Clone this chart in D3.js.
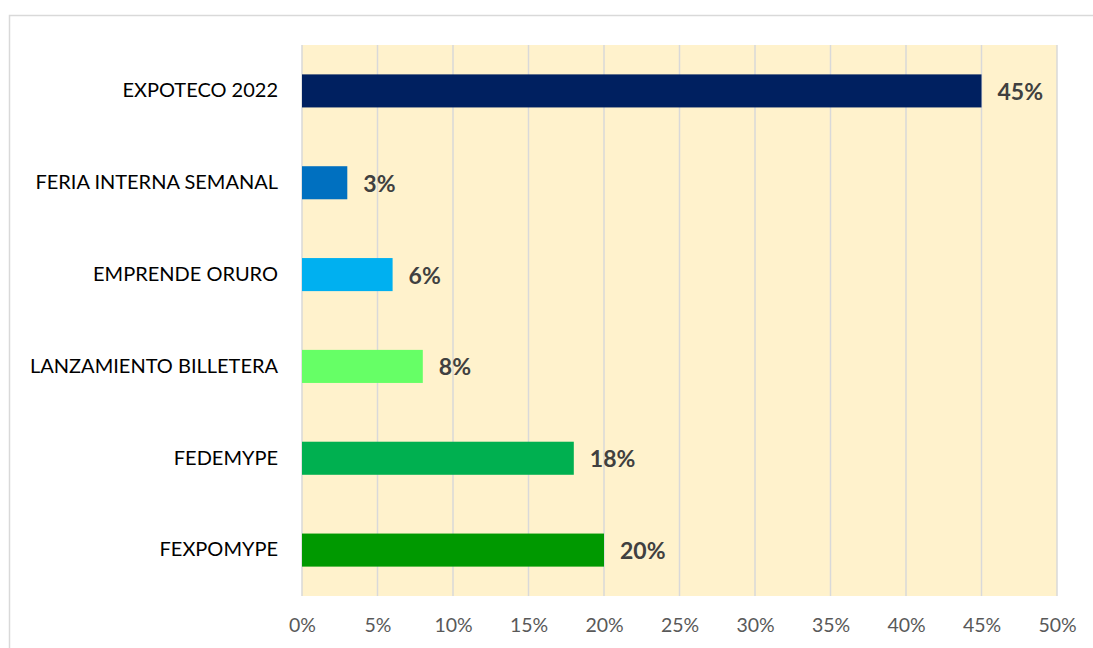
<!DOCTYPE html>
<html>
<head>
<meta charset="utf-8">
<script src="https://cdn.jsdelivr.net/npm/d3@7"></script>
<style>
  body { margin: 0; background: #fff; }
  svg { display: block; }
</style>
</head>
<body>
<div id="chart"></div>
<script>
var categories = ["EXPOTECO 2022", "FERIA INTERNA SEMANAL", "EMPRENDE ORURO",
                  "LANZAMIENTO BILLETERA", "FEDEMYPE", "FEXPOMYPE"];
var values = [0.45, 0.03, 0.06, 0.08, 0.18, 0.20];
var barColors = ["#002060", "#0070C0", "#00B0F0", "#66FF66", "#00B050", "#009900"];
var xTicks = [0, 0.05, 0.10, 0.15, 0.20, 0.25, 0.30, 0.35, 0.40, 0.45, 0.50];

var w = 1093, h = 648;
var margin = { left: 302, right: 36, top: 45, bottom: 52 };
var font = "Lato, 'Open Sans', sans-serif";

var svg = d3.select("#chart").append("svg")
  .attr("width", w)
  .attr("height", h);

// outer chart border
svg.append("rect")
  .attr("x", 9.5).attr("y", 15.5)
  .attr("width", 1100).attr("height", 700)
  .attr("fill", "#fff")
  .attr("stroke", "#d9d9d9")
  .attr("stroke-width", 1.5);

var x = d3.scaleLinear().domain([0, 0.5]).range([margin.left, w - margin.right]);
var y = d3.scaleBand().domain(categories)
  .range([margin.top, h - margin.bottom])
  .paddingInner(0.64).paddingOuter(0.32);

// plot background
svg.append("rect")
  .attr("x", x(0)).attr("y", margin.top)
  .attr("width", x(0.5) - x(0))
  .attr("height", h - margin.bottom - margin.top)
  .attr("fill", "#FFF2CC");

// gridlines
svg.selectAll("line.grid")
  .data(xTicks)
  .enter().append("line")
  .attr("class", "grid")
  .attr("x1", function(d) { return x(d); })
  .attr("x2", function(d) { return x(d); })
  .attr("y1", margin.top)
  .attr("y2", h - margin.bottom)
  .attr("stroke", "#d9d9d9")
  .attr("stroke-width", 1.5);

// bars
svg.selectAll("rect.bar")
  .data(values)
  .enter().append("rect")
  .attr("class", "bar")
  .attr("x", x(0))
  .attr("y", function(d, i) { return y(categories[i]); })
  .attr("width", function(d) { return x(d) - x(0); })
  .attr("height", y.bandwidth())
  .attr("fill", function(d, i) { return barColors[i]; });

// value labels
svg.selectAll("text.val")
  .data(values)
  .enter().append("text")
  .attr("class", "val")
  .attr("x", function(d) { return x(d) + 16; })
  .attr("y", function(d, i) { return y(categories[i]) + y.bandwidth() / 2 + 1; })
  .attr("dy", "0.35em")
  .attr("font-family", font)
  .attr("font-size", "23px")
  .attr("font-weight", "bold")
  .attr("fill", "#404040")
  .text(function(d) { return Math.round(d * 100) + "%"; });

// category axis
var yAxis = svg.append("g")
  .attr("transform", "translate(" + (x(0) - 24) + ",0)")
  .call(d3.axisLeft(y).tickSize(0).tickPadding(0));
yAxis.select(".domain").remove();
yAxis.selectAll("text")
  .attr("font-family", font)
  .attr("font-size", "20px")
  .attr("fill", "#000");

// value axis
var xAxis = svg.append("g")
  .attr("transform", "translate(0," + (h - margin.bottom) + ")")
  .call(d3.axisBottom(x).tickValues(xTicks).tickFormat(d3.format(".0%")).tickSize(0).tickPadding(22));
xAxis.select(".domain").remove();
xAxis.selectAll("text")
  .attr("font-family", font)
  .attr("font-size", "19.5px")
  .attr("fill", "#595959");
</script>
</body>
</html>
